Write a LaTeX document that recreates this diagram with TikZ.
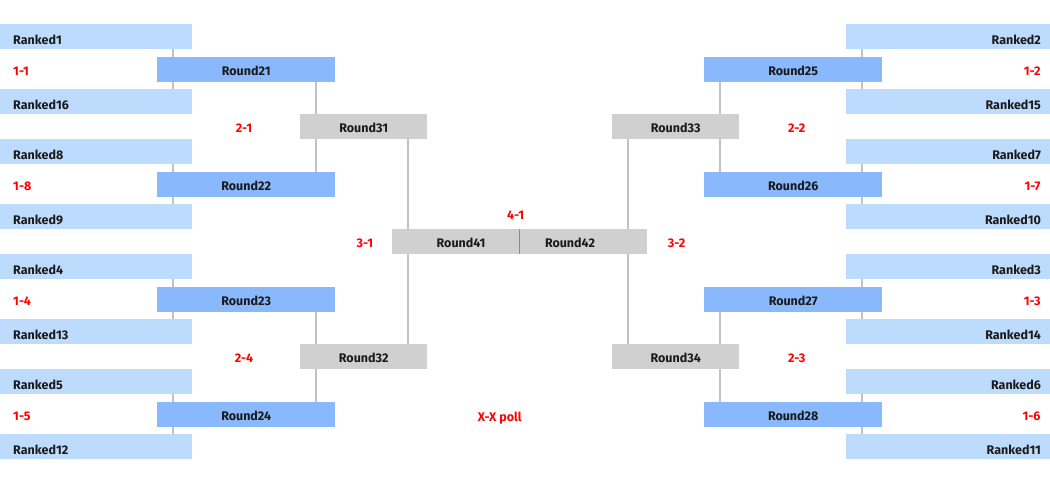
\documentclass[tikz,border=0pt]{standalone}
\usepackage{fontspec}
\setmainfont{Fira Sans}
\definecolor{rkblue}{HTML}{BDDBFD}
\definecolor{rdblue}{HTML}{8AB8FD}
\definecolor{rdgray}{HTML}{D0D0D0}
\definecolor{lngray}{HTML}{C2C2C2}
\definecolor{txt}{HTML}{1A1A1A}
\definecolor{lblred}{HTML}{FF0000}
\tikzset{
  fnt/.style={font=\fontsize{12.5}{13}\selectfont\bfseries},
  rkL/.style={fnt, fill=rkblue, text=txt, anchor=north west, inner ysep=0pt, inner xsep=13pt,
     text width=166pt, align=left, minimum height=25pt, text height=15pt, text depth=0pt},
  rkR/.style={fnt, fill=rkblue, text=txt, anchor=north west, inner ysep=0pt, inner xsep=9.3pt,
     text width=185.4pt, align=right, minimum height=25pt, text height=15pt, text depth=0pt},
  rdbox/.style={fnt, text=txt, anchor=north west, inner sep=0pt, minimum height=25pt,
     text height=12pt, text depth=0pt},
  r2/.style={rdbox, fill=rdblue, minimum width=178pt},
  r3/.style={rdbox, fill=rdgray, minimum width=127pt},
  rtext/.style={fnt, text=txt, inner sep=0pt, text height=9pt, text depth=0pt},
  lbl/.style={fnt, text=lblred, inner sep=0pt, text height=9pt, text depth=0pt},
  conn/.style={draw=lngray, line width=1.7pt},
}
\begin{document}
\begin{tikzpicture}[x=1pt,y=-1pt]
\useasboundingbox (0,0) rectangle (1050,478);
% left ranked
\node[rkL] (R1)  at (0,24)  {Ranked1};
\node[rkL] (R16) at (0,89)  {Ranked16};
\node[rkL] (R8)  at (0,139) {Ranked8};
\node[rkL] (R9)  at (0,204) {Ranked9};
\node[rkL] (R4)  at (0,254) {Ranked4};
\node[rkL] (R13) at (0,319) {Ranked13};
\node[rkL] (R5)  at (0,369) {Ranked5};
\node[rkL] (R12) at (0,434) {Ranked12};
% right ranked
\node[rkR] (R2)  at (846,24)  {Ranked2};
\node[rkR] (R15) at (846,89)  {Ranked15};
\node[rkR] (R7)  at (846,139) {Ranked7};
\node[rkR] (R10) at (846,204) {Ranked10};
\node[rkR] (R3)  at (846,254) {Ranked3};
\node[rkR] (R14) at (846,319) {Ranked14};
\node[rkR] (R6)  at (846,369) {Ranked6};
\node[rkR] (R11) at (846,434) {Ranked11};
% round 2
\node[r2] (Q21) at (157,57)  {Round21};
\node[r2] (Q22) at (157,172) {Round22};
\node[r2] (Q23) at (157,287) {Round23};
\node[r2] (Q24) at (157,402) {Round24};
\node[r2] (Q25) at (704,57)  {Round25};
\node[r2] (Q26) at (704,172) {Round26};
\node[r2] (Q27) at (704,287) {Round27};
\node[r2] (Q28) at (704,402) {Round28};
% round 3
\node[r3] (Q31) at (300,114) {Round31};
\node[r3] (Q32) at (300,344) {Round32};
\node[r3] (Q33) at (612,114) {Round33};
\node[r3] (Q34) at (612,344) {Round34};
% round 4
\node[rdbox, fill=rdgray, minimum width=255pt] (Q4) at (392,229) {};
\coordinate (mid) at (519.3,0);
\draw[draw=gray!90, line width=0.8pt] (Q4.north -| mid) -- (Q4.south -| mid);
\node[rtext] (Q41) at (461,242.7) {Round41};
\node[rtext] (Q42) at (570,242.7) {Round42};
% connector columns
\coordinate (xa) at (172.7,0);
\coordinate (xb) at (315.7,0);
\coordinate (xc) at (407.7,0);
\coordinate (xd) at (861.7,0);
\coordinate (xe) at (719.7,0);
\coordinate (xf) at (627.7,0);
% connectors
\foreach \u/\r/\v in {R1/Q21/R16, R8/Q22/R9, R4/Q23/R13, R5/Q24/R12}{
  \draw[conn] (\u.south -| xa) -- (\r.north -| xa);
  \draw[conn] (\r.south -| xa) -- (\v.north -| xa);
}
\foreach \u/\r/\v in {R2/Q25/R15, R7/Q26/R10, R3/Q27/R14, R6/Q28/R11}{
  \draw[conn] (\u.south -| xd) -- (\r.north -| xd);
  \draw[conn] (\r.south -| xd) -- (\v.north -| xd);
}
\foreach \u/\r/\v in {Q21/Q31/Q22, Q23/Q32/Q24}{
  \draw[conn] (\u.south -| xb) -- (\r.north -| xb);
  \draw[conn] (\r.south -| xb) -- (\v.north -| xb);
}
\foreach \u/\r/\v in {Q25/Q33/Q26, Q27/Q34/Q28}{
  \draw[conn] (\u.south -| xe) -- (\r.north -| xe);
  \draw[conn] (\r.south -| xe) -- (\v.north -| xe);
}
\draw[conn] (Q31.south -| xc) -- (Q4.north -| xc);
\draw[conn] (Q4.south -| xc) -- (Q32.north -| xc);
\draw[conn] (Q33.south -| xf) -- (Q4.north -| xf);
\draw[conn] (Q4.south -| xf) -- (Q34.north -| xf);
% labels
\node[lbl, anchor=west] (L11) at (13,71)  {1-1};
\node[lbl, anchor=west] (L18) at (13,186) {1-8};
\node[lbl, anchor=west] (L14) at (13,301) {1-4};
\node[lbl, anchor=west] (L15) at (13,416) {1-5};
\node[lbl, anchor=east] (L12) at (1040.7,71)  {1-2};
\node[lbl, anchor=east] (L17) at (1040.7,186) {1-7};
\node[lbl, anchor=east] (L13) at (1040.7,301) {1-3};
\node[lbl, anchor=east] (L16) at (1040.7,416) {1-6};
\node[lbl] (L21) at (244,128) {2-1};
\node[lbl] (L24) at (244,358) {2-4};
\node[lbl] (L22) at (796.7,128) {2-2};
\node[lbl] (L23) at (796.7,358) {2-3};
\node[lbl] (L31) at (365,243) {3-1};
\node[lbl] (L32) at (676.7,243) {3-2};
\node[lbl] (L41) at (515.7,215) {4-1};
\node[lbl] (Lpoll) at (499.7,417) {X-X poll};
\end{tikzpicture}
\end{document}
